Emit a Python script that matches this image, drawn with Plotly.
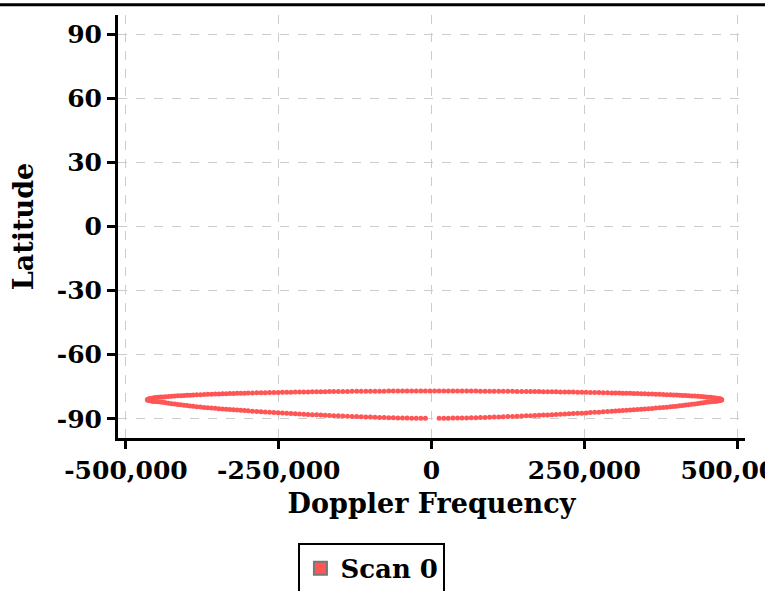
import plotly.graph_objects as go

# Doppler frequency (kHz) and latitude (deg)
# upper arc, left -> right
doppler_upper_khz = [
    -465, -464, -462, -460, -457, -454, -451, -447, -443, -439, -435, -430,
    -425, -420, -415, -410, -405, -400, -395, -390, -384, -378, -372, -366,
    -360, -354, -348, -342, -336, -330, -324, -318, -312, -306, -300, -293,
    -286, -279, -272, -265, -258, -251, -244, -237, -230, -223, -216, -209,
    -202, -195, -188, -181, -174, -167, -160, -152.5, -145, -137.5, -130,
    -122.5, -115, -107.5, -100, -92.5, -85, -77.5, -70, -62.5, -55, -47.5,
    -40, -32.5, -25, -17.5, -10, -2.5,
    5, 12.5, 20, 27.5, 35, 42.5, 50, 57.5, 65, 72.5, 80, 87.5, 95, 102.5,
    110, 117.5, 125, 132.5, 140, 147.5, 155, 162, 169, 176, 183, 190, 197,
    204, 211, 218, 225, 232, 239, 246, 253, 260, 267, 274, 281, 288, 295,
    301, 307, 313, 319, 325, 331, 337, 343, 349, 355, 361, 367, 373, 379,
    385, 391, 396, 401, 406, 411, 416, 421, 426, 431, 436, 441, 445, 449,
    453, 457, 461, 464, 467, 470, 472, 474, 475,
]
lat_upper = [
    -81.10, -80.83, -80.63, -80.50, -80.34, -80.21, -80.10, -79.97, -79.85,
    -79.75, -79.65, -79.54, -79.44, -79.34, -79.25, -79.17, -79.09, -79.01,
    -78.94, -78.87, -78.79, -78.71, -78.64, -78.57, -78.51, -78.44, -78.38,
    -78.32, -78.27, -78.21, -78.16, -78.11, -78.06, -78.01, -77.97, -77.92,
    -77.87, -77.82, -77.77, -77.73, -77.69, -77.65, -77.61, -77.57, -77.54,
    -77.50, -77.47, -77.44, -77.41, -77.38, -77.35, -77.32, -77.30, -77.27,
    -77.25, -77.23, -77.20, -77.18, -77.16, -77.14, -77.13, -77.11, -77.10,
    -77.08, -77.07, -77.06, -77.05, -77.04, -77.03, -77.02, -77.02, -77.01,
    -77.01, -77.00, -77.00, -77.00,
    -77.00, -77.00, -77.00, -77.01, -77.01, -77.02, -77.02, -77.03, -77.04,
    -77.05, -77.06, -77.07, -77.08, -77.10, -77.11, -77.13, -77.14, -77.16,
    -77.18, -77.20, -77.22, -77.25, -77.27, -77.29, -77.32, -77.34, -77.37,
    -77.40, -77.43, -77.46, -77.49, -77.52, -77.56, -77.59, -77.63, -77.67,
    -77.71, -77.75, -77.79, -77.84, -77.89, -77.93, -77.97, -78.02, -78.06,
    -78.11, -78.16, -78.21, -78.26, -78.32, -78.38, -78.44, -78.50, -78.56,
    -78.63, -78.70, -78.77, -78.84, -78.90, -78.97, -79.05, -79.12, -79.20,
    -79.29, -79.38, -79.47, -79.58, -79.67, -79.76, -79.87, -79.98, -80.11,
    -80.22, -80.35, -80.51, -80.64, -80.83, -81.10,
]

# lower arc, right -> left (gap near zero Doppler)
doppler_lower_khz = [
    474, 472, 470, 467, 464, 461, 457, 453, 449, 445, 441, 436, 431, 426,
    421, 416, 411, 406, 401, 396, 391, 385, 379, 373, 367, 361, 355, 349,
    343, 337, 331, 325, 319, 313, 307, 301, 295, 288, 281, 274, 267, 260,
    253, 246, 239, 232, 225, 218, 211, 204, 197, 190, 183, 176, 169, 162,
    155, 147.5, 140, 132.5, 125, 117.5, 110, 102.5, 95, 87.5, 80, 72.5, 65,
    57.5, 50, 42.5, 35, 27.5, 20, 12.5,
    -10, -17.5, -25, -32.5, -40, -47.5, -55, -62.5, -70, -77.5, -85, -92.5,
    -100, -107.5, -115, -122.5, -130, -137.5, -145, -152.5, -160, -167,
    -174, -181, -188, -195, -202, -209, -216, -223, -230, -237, -244, -251,
    -258, -265, -272, -279, -286, -293, -300, -306, -312, -318, -324, -330,
    -336, -342, -348, -354, -360, -366, -372, -378, -384, -390, -395, -400,
    -405, -410, -415, -420, -425, -430, -435, -439, -443, -447, -451, -454,
    -457, -460, -462, -464,
]
lat_lower = [
    -81.33, -81.50, -81.61, -81.75, -81.85, -81.92, -82.03, -82.14, -82.29,
    -82.46, -82.63, -82.84, -83.05, -83.25, -83.42, -83.59, -83.76, -83.92,
    -84.08, -84.23, -84.38, -84.55, -84.72, -84.86, -85.00, -85.14, -85.28,
    -85.42, -85.56, -85.70, -85.83, -85.94, -86.06, -86.17, -86.28, -86.40,
    -86.51, -86.64, -86.77, -86.89, -87.00, -87.12, -87.24, -87.36, -87.47,
    -87.58, -87.68, -87.79, -87.89, -87.99, -88.10, -88.20, -88.29, -88.38,
    -88.47, -88.55, -88.64, -88.74, -88.83, -88.91, -88.98, -89.06, -89.14,
    -89.22, -89.30, -89.35, -89.41, -89.47, -89.52, -89.58, -89.63, -89.67,
    -89.69, -89.71, -89.74, -89.76,
    -89.77, -89.74, -89.72, -89.70, -89.67, -89.64, -89.59, -89.53, -89.47,
    -89.42, -89.36, -89.30, -89.22, -89.14, -89.06, -88.98, -88.90, -88.82,
    -88.73, -88.63, -88.54, -88.45, -88.35, -88.26, -88.17, -88.06, -87.96,
    -87.85, -87.75, -87.64, -87.54, -87.42, -87.30, -87.18, -87.06, -86.94,
    -86.82, -86.70, -86.56, -86.43, -86.29, -86.18, -86.06, -85.95, -85.83,
    -85.69, -85.55, -85.41, -85.27, -85.13, -84.98, -84.84, -84.70, -84.52,
    -84.34, -84.16, -84.01, -83.84, -83.66, -83.49, -83.32, -83.14, -82.92,
    -82.71, -82.49, -82.32, -82.16, -82.05, -81.95, -81.86, -81.75, -81.61,
    -81.50, -81.33,
]

x_ticks = [-500000, -250000, 0, 250000, 500000]
x_labels = ["-500,000", "-250,000", "0", "250,000", "500,000"]
y_ticks = [-90, -60, -30, 0, 30, 60, 90]
y_labels = ["-90", "-60", "-30", "0", "30", "60", "90"]

doppler = [v * 1000 for v in doppler_upper_khz + doppler_lower_khz]
lat = lat_upper + lat_lower

red = "#ff5555"

fig = go.Figure()
fig.add_trace(go.Scatter(x=doppler, y=lat, mode="markers", showlegend=False,
                         marker=dict(color=red, size=5)))
# legend swatch (square with grey rim, as in the original)
fig.add_trace(go.Scatter(x=[None], y=[None], mode="markers", name="Scan 0",
                         marker=dict(color=red, size=13, symbol="square",
                                     line=dict(color="#777777", width=2))))

axis_style = dict(showline=True, linecolor="black", linewidth=3,
                  ticks="outside", ticklen=8, tickwidth=3, tickcolor="black",
                  showgrid=True, gridcolor="#cccccc", griddash="dash",
                  gridwidth=1, zeroline=False, automargin=False,
                  ticklabeloverflow="allow")

fig.update_xaxes(range=[-513000, 513000], tickvals=x_ticks, ticktext=x_labels,
                 title=dict(text="Doppler Frequency", standoff=11,
                            font=dict(size=27)),
                 **axis_style)
fig.update_yaxes(range=[-99, 99], tickvals=y_ticks, ticktext=y_labels,
                 title=dict(text="Latitude", standoff=16, font=dict(size=27)),
                 **axis_style)

fig.update_layout(width=765, height=591,
                  margin=dict(l=118, r=20, t=15, b=153, autoexpand=False),
                  plot_bgcolor="white", paper_bgcolor="white",
                  font=dict(family="DejaVu Serif", size=25, color="black",
                            weight="bold"),
                  legend=dict(orientation="h", x=0.405, xanchor="center",
                              y=-0.248, yanchor="top",
                              bordercolor="black", borderwidth=2,
                              font=dict(size=26)))

# thin rule across the top of the figure
fig.add_shape(type="line", xref="paper", yref="paper",
              x0=-0.2, x1=1.05, y0=1.0243, y1=1.0243,
              line=dict(color="black", width=3))

# drop the default 8px page margin so the figure sits at the window corner
fig.write_html("out.html", config={"displayModeBar": False},
               post_script="document.body.style.margin = '0';")
